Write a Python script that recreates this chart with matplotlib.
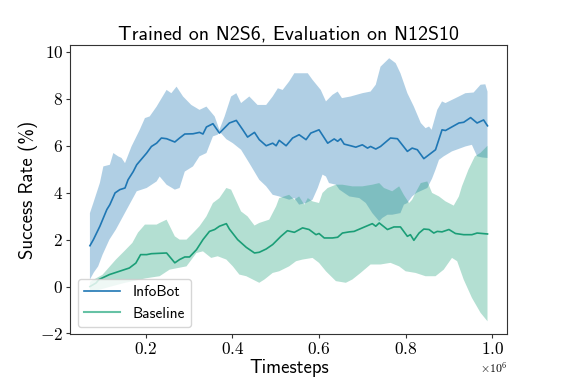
import numpy as np
import matplotlib
matplotlib.use("Agg")
from matplotlib import pyplot as plt
from matplotlib.lines import Line2D
from matplotlib.ticker import FuncFormatter

# timesteps in millions, values in %
infobot_x = [0.071, 0.079, 0.094, 0.110, 0.117, 0.129, 0.140, 0.152, 0.159, 0.171, 0.179, 0.202, 0.213,
             0.225, 0.236, 0.248, 0.267, 0.278, 0.290, 0.309, 0.324, 0.332, 0.340, 0.355, 0.370, 0.393,
             0.409, 0.424, 0.435, 0.451, 0.462, 0.478, 0.493, 0.501, 0.508, 0.524, 0.539, 0.554, 0.570,
             0.581, 0.600, 0.620, 0.635, 0.643, 0.650, 0.658, 0.673, 0.685, 0.700, 0.712, 0.719, 0.731,
             0.742, 0.765, 0.781, 0.804, 0.815, 0.827, 0.842, 0.869, 0.884, 0.892, 0.923, 0.934, 0.950,
             0.965, 0.980, 0.989]
infobot_mean = [1.74, 2.00, 2.57, 3.28, 3.49, 3.99, 4.13, 4.20, 4.55, 4.90, 5.19, 5.69, 5.97,
                6.11, 6.33, 6.30, 6.16, 6.33, 6.50, 6.51, 6.57, 6.50, 6.80, 6.94, 6.54, 6.97,
                7.08, 6.68, 6.37, 6.57, 6.26, 6.00, 6.11, 6.00, 6.23, 6.00, 6.33, 6.47, 6.26,
                6.54, 6.68, 6.11, 6.29, 6.19, 6.30, 6.07, 6.00, 5.94, 6.04, 5.90, 5.97, 5.86,
                5.97, 6.33, 6.30, 5.76, 5.90, 5.83, 5.45, 5.83, 6.68, 6.65, 6.97, 7.00, 7.20,
                6.97, 7.10, 6.85]

infobot_up_x = [0.071, 0.079, 0.094, 0.102, 0.117, 0.125, 0.136, 0.144, 0.152, 0.167, 0.186, 0.198, 0.209,
                0.225, 0.248, 0.259, 0.271, 0.286, 0.305, 0.324, 0.340, 0.359, 0.370, 0.382, 0.397, 0.409,
                0.420, 0.439, 0.458, 0.478, 0.493, 0.505, 0.516, 0.531, 0.543, 0.558, 0.574, 0.585, 0.604,
                0.616, 0.631, 0.643, 0.653, 0.673, 0.700, 0.719, 0.731, 0.742, 0.762, 0.777, 0.788, 0.804,
                0.819, 0.835, 0.846, 0.854, 0.860, 0.873, 0.884, 0.892, 0.923, 0.938, 0.957, 0.973, 0.984,
                0.989]
infobot_up = [3.13, 3.57, 4.42, 5.12, 5.19, 5.69, 5.55, 5.48, 5.26, 5.97, 6.68, 7.18, 7.25,
              7.67, 8.38, 8.24, 8.52, 8.10, 7.74, 7.53, 7.67, 7.25, 6.68, 7.25, 8.10, 8.24,
              7.82, 8.10, 7.74, 7.74, 8.10, 8.45, 8.38, 8.74, 9.09, 9.09, 9.09, 8.81, 8.38,
              7.89, 8.17, 8.31, 8.03, 8.10, 8.24, 8.31, 8.60, 9.37, 9.73, 9.52, 9.09, 8.24,
              7.67, 6.97, 6.75, 6.82, 6.68, 7.53, 7.89, 7.82, 8.10, 8.24, 8.27, 8.60, 8.62,
              8.31]

infobot_lo_x = [0.071, 0.080, 0.090, 0.100, 0.116, 0.131, 0.156, 0.179, 0.202, 0.225, 0.232, 0.248, 0.267,
                0.278, 0.290, 0.309, 0.324, 0.340, 0.355, 0.366, 0.370, 0.386, 0.401, 0.420, 0.439, 0.462,
                0.478, 0.493, 0.508, 0.531, 0.543, 0.554, 0.570, 0.585, 0.597, 0.608, 0.616, 0.623, 0.639,
                0.647, 0.670, 0.693, 0.708, 0.723, 0.739, 0.746, 0.758, 0.769, 0.788, 0.796, 0.804, 0.815,
                0.825, 0.850, 0.861, 0.869, 0.877, 0.888, 0.907, 0.938, 0.953, 0.965, 0.977, 0.989]
infobot_lo = [0.30, 0.60, 0.86, 1.35, 2.00, 2.43, 3.28, 4.06, 4.20, 4.48, 4.69, 4.34, 4.13,
              4.20, 4.90, 5.12, 5.55, 5.69, 6.40, 6.47, 6.61, 6.28, 6.11, 5.83, 5.26, 4.55,
              4.27, 3.91, 3.84, 3.70, 3.77, 3.49, 3.56, 3.70, 4.20, 4.77, 4.69, 4.41, 4.34,
              4.13, 3.84, 3.77, 3.56, 3.13, 2.78, 2.92, 3.06, 3.06, 3.13, 3.49, 3.56, 3.84,
              3.99, 4.20, 4.60, 4.98, 5.40, 5.55, 5.76, 5.97, 6.04, 5.55, 5.50, 5.48]

baseline_x = [0.071, 0.085, 0.092, 0.116, 0.139, 0.162, 0.177, 0.188, 0.202, 0.213, 0.248, 0.267, 0.278,
              0.290, 0.301, 0.317, 0.332, 0.347, 0.359, 0.370, 0.386, 0.393, 0.412, 0.432, 0.451, 0.462,
              0.478, 0.493, 0.512, 0.527, 0.543, 0.562, 0.577, 0.593, 0.600, 0.612, 0.631, 0.643, 0.654,
              0.670, 0.681, 0.700, 0.723, 0.731, 0.739, 0.758, 0.773, 0.788, 0.804, 0.811, 0.819, 0.831,
              0.842, 0.854, 0.865, 0.873, 0.884, 0.900, 0.915, 0.934, 0.953, 0.965, 0.989]
baseline_mean = [0.00, 0.15, 0.30, 0.51, 0.65, 0.79, 1.00, 1.36, 1.36, 1.40, 1.43, 1.01, 1.15,
                 1.26, 1.26, 1.57, 2.00, 2.35, 2.43, 2.57, 2.68, 2.45, 2.00, 1.67, 1.43, 1.46,
                 1.60, 1.79, 2.14, 2.38, 2.31, 2.50, 2.43, 2.21, 2.26, 2.07, 2.07, 2.10, 2.28,
                 2.33, 2.35, 2.50, 2.68, 2.57, 2.71, 2.43, 2.54, 2.54, 2.14, 2.21, 1.97, 2.28,
                 2.45, 2.43, 2.28, 2.35, 2.33, 2.43, 2.26, 2.21, 2.21, 2.28, 2.24]

baseline_up_x = [0.071, 0.085, 0.100, 0.131, 0.150, 0.169, 0.182, 0.198, 0.225, 0.232, 0.248, 0.267, 0.278,
                 0.294, 0.309, 0.324, 0.340, 0.355, 0.370, 0.386, 0.397, 0.420, 0.435, 0.451, 0.462, 0.485,
                 0.501, 0.508, 0.531, 0.543, 0.554, 0.566, 0.574, 0.585, 0.600, 0.608, 0.620, 0.639, 0.654,
                 0.677, 0.700, 0.723, 0.739, 0.750, 0.769, 0.785, 0.796, 0.808, 0.815, 0.823, 0.835, 0.850,
                 0.861, 0.877, 0.892, 0.911, 0.923, 0.930, 0.945, 0.960, 0.973, 0.989]
baseline_up = [0.20, 0.35, 0.50, 1.15, 1.50, 1.86, 2.30, 2.64, 2.64, 2.71, 2.85, 2.14, 2.00,
               2.00, 2.28, 2.57, 2.99, 3.56, 3.77, 4.20, 4.13, 3.20, 2.99, 2.60, 2.71, 2.85,
               3.42, 3.77, 3.91, 3.70, 3.84, 3.49, 3.77, 3.63, 3.56, 3.99, 4.20, 4.34, 4.34,
               4.27, 4.27, 4.34, 4.41, 4.20, 4.06, 4.27, 3.90, 3.56, 3.70, 4.00, 4.41, 4.48,
               3.99, 3.84, 3.63, 3.45, 3.84, 4.27, 4.98, 5.55, 5.70, 6.00]

baseline_lo_x = [0.071, 0.100, 0.150, 0.200, 0.232, 0.255, 0.294, 0.317, 0.332, 0.351, 0.366, 0.386, 0.401,
                 0.416, 0.432, 0.447, 0.462, 0.474, 0.493, 0.508, 0.531, 0.547, 0.562, 0.585, 0.600, 0.616,
                 0.639, 0.662, 0.677, 0.696, 0.719, 0.742, 0.765, 0.785, 0.800, 0.823, 0.846, 0.869, 0.888,
                 0.907, 0.919, 0.934, 0.953, 0.973, 0.989]
baseline_lo = [-0.25, -0.10, 0.15, 0.35, 0.44, 0.72, 0.86, 1.43, 1.50, 1.22, 1.29, 1.15, 0.86,
               0.51, 0.44, 0.30, 0.16, 0.30, 0.58, 0.65, 0.86, 1.08, 1.15, 1.22, 1.01, 0.65,
               0.23, 0.16, 0.30, 0.58, 0.94, 0.94, 1.01, 0.86, 0.65, 0.58, 0.44, 0.44, 0.72,
               1.22, 1.08, 0.30, -0.48, -1.12, -1.48]

series_names = ["InfoBot", "Baseline"]
x_ticks = [0.2, 0.4, 0.6, 0.8, 1.0]
y_ticks = [-2, 0, 2, 4, 6, 8, 10]

BLUE = "#1f77b4"
GREEN = "#1b9e77"
GREEN_LEGEND = "#66c2a5"

plt.rcParams["font.family"] = ["cmss10", "DejaVu Sans"]
plt.rcParams["mathtext.fontset"] = "cm"


def band(ax, xu, yu, xl, yl, color, alpha):
    xs = np.concatenate([xu, np.asarray(xl)[::-1]]) * 1e6
    ys = np.concatenate([yu, np.asarray(yl)[::-1]])
    ax.fill(xs, ys, color=color, alpha=alpha, lw=0)


fig, ax = plt.subplots(figsize=(5.65, 3.77), dpi=100)
fig.subplots_adjust(left=0.124, right=0.898, top=0.881, bottom=0.113)

band(ax, infobot_up_x, infobot_up, infobot_lo_x, infobot_lo, BLUE, 0.35)
ax.plot(np.array(infobot_x) * 1e6, infobot_mean, color=BLUE, lw=1.2)
band(ax, baseline_up_x, baseline_up, baseline_lo_x, baseline_lo, GREEN, 0.33)
ax.plot(np.array(baseline_x) * 1e6, baseline_mean, color=GREEN, lw=1.2)

ax.set_ylim(-2.04, 10.3)
ax.set_xticks(np.array(x_ticks) * 1e6)
ax.set_yticks(y_ticks)
# tick labels in computer modern serif, x in units of 1e6
ax.xaxis.set_major_formatter(FuncFormatter(lambda v, p: f"${v / 1e6:.1f}$"))
ax.yaxis.set_major_formatter(FuncFormatter(lambda v, p: f"${v:g}$"))
ax.text(1.0, -0.118, r"$\times10^{6}$", transform=ax.transAxes, ha="right", va="center", fontsize=8.5)
ax.tick_params(labelsize=12.5, length=3, width=0.8, color="#333333", pad=2)
for sp in ax.spines.values():
    sp.set_color("#333333")
    sp.set_linewidth(0.8)

ax.set_title("Trained on N2S6, Evaluation on N12S10", fontsize=14.3, pad=4)
ax.set_xlabel("Timesteps", fontsize=13.5, labelpad=1)
ax.set_ylabel("Success Rate (%)", fontsize=13.5, labelpad=1.5)

handles = [Line2D([], [], color=BLUE, lw=1.2), Line2D([], [], color=GREEN_LEGEND, lw=1.5)]
ax.legend(handles, series_names, loc="lower left", fontsize=11, handlelength=2.4,
          borderaxespad=0.5, framealpha=0.8)

fig.savefig("out.png", dpi=100)
